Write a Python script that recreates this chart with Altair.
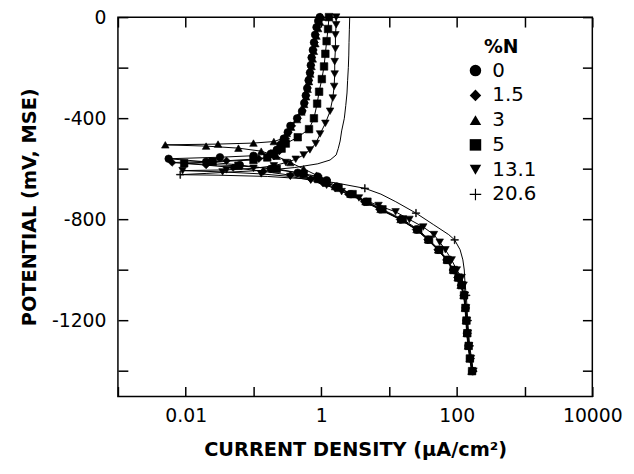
import altair as alt
import pandas as pd

SERIES = ["0", "1.5", "3", "5", "13.1", "20.6"]
PLUS = "M-1,-0.1H-0.1V-1H0.1V-0.1H1V0.1H0.1V1H-0.1V0.1H-1Z"
SHAPES = ["circle", "diamond", "triangle-up", "square", "triangle-down", PLUS]

# potential (mV, MSE) and current density (uA/cm2), cathodic end -> Ecorr -> anodic end
E_0 = [-1400,-1350,-1300,-1250,-1200,-1150,-1100,-1060,-1030,-1000,-960,-920,-880,-840,-800,-760,-730,-700,-670,-645,-630,-615,-600,-585,-572,-560,-554,-548,-540,-525,-505,-480,-455,-430,-400,-372,-340,-310,-281,-250,-220,-190,-160,-130,-100,-70,-40,-15,0]
I_0 = [170,158,148,141,138,135,129,117,105,89,72,54,38,26,15,7.6,4.6,2.75,1.7,1.2,0.89,0.45,0.18,0.063,0.02,0.0056,0.032,0.1,0.18,0.22,0.25,0.28,0.32,0.35,0.44,0.52,0.56,0.59,0.62,0.65,0.68,0.70,0.72,0.75,0.78,0.81,0.85,0.9,0.95]

E_1_5 = [-1400,-1350,-1300,-1250,-1200,-1150,-1100,-1060,-1030,-1000,-960,-920,-880,-840,-800,-760,-730,-700,-675,-655,-640,-625,-610,-595,-585,-575,-568,-560,-550,-530,-505,-480,-455,-430,-400,-370,-340,-310,-280,-250,-220,-190,-160,-130,-100,-70,-40,-15,0]
I_1_5 = [175,160,150,145,140,135,126,115,102,87,70,52,37,25,14.5,7.2,4.3,2.5,1.6,1.05,0.7,0.35,0.14,0.05,0.02,0.0063,0.04,0.12,0.2,0.24,0.27,0.3,0.33,0.37,0.45,0.53,0.57,0.6,0.63,0.66,0.69,0.71,0.73,0.77,0.8,0.83,0.87,0.92,0.97]

E_3 = [-1400,-1350,-1300,-1250,-1200,-1150,-1100,-1060,-1030,-1000,-960,-920,-880,-840,-800,-760,-730,-700,-670,-645,-625,-600,-575,-550,-530,-518,-510,-505,-502,-498,-492,-480,-460,-435,-405,-375,-345,-315,-285,-255,-225,-195,-165,-135,-105,-75,-45,-20,0]
I_3 = [165,155,146,140,136,132,126,114,103,88,71,53,37.5,25.5,14.8,7.5,4.5,2.7,1.6,1.05,0.85,0.55,0.35,0.22,0.13,0.06,0.02,0.005,0.03,0.1,0.2,0.27,0.31,0.36,0.44,0.51,0.56,0.6,0.63,0.66,0.69,0.72,0.75,0.78,0.82,0.85,0.9,0.96,1.02]

E_5 = [-1400,-1350,-1300,-1250,-1200,-1150,-1100,-1060,-1030,-1000,-960,-920,-880,-840,-800,-760,-730,-700,-675,-655,-640,-620,-600,-588,-578,-572,-565,-555,-540,-520,-500,-475,-443,-400,-342,-295,-245,-195,-145,-95,-47,0]
I_5 = [168,156,150,143,139,134,128,118,106,90,73,55,39,27,16,8,4.8,2.9,1.8,1.2,0.9,0.55,0.22,0.06,0.0095,0.025,0.1,0.16,0.2,0.26,0.3,0.45,0.66,0.78,0.87,0.93,1.02,1.1,1.15,1.2,1.26,1.3]

E_13_1 = [-1400,-1350,-1300,-1250,-1200,-1150,-1100,-1060,-1030,-1000,-960,-920,-890,-860,-830,-800,-770,-745,-715,-690,-665,-645,-630,-620,-612,-607,-604,-598,-588,-575,-562,-545,-525,-500,-462,-420,-372,-320,-274,-225,-176,-125,-70,-30,0]
I_13_1 = [176,162,152,146,141,137,132,126,118,100,84,68,56,46,32,20,12.5,7,3.6,2.0,1.2,0.7,0.35,0.13,0.035,0.009,0.04,0.1,0.2,0.3,0.42,0.55,0.68,0.83,0.96,1.15,1.35,1.48,1.55,1.58,1.58,1.62,1.62,1.66,1.66]

E_20_6 = [-1400,-1350,-1300,-1250,-1200,-1150,-1100,-1050,-1000,-960,-920,-881,-860,-820,-775,-730,-700,-677,-655,-640,-630,-625,-623,-618,-612,-605,-595,-580,-565,-545,-520,-490,-450,-400,-350,-300,-250,-200,-150,-100,-50,0]
I_20_6 = [174,165,155,150,145,142,138,132,129,123,112,93,76,45,25,12.6,7.6,4.4,1.6,0.63,0.16,0.03,0.0083,0.02,0.05,0.16,0.4,0.89,1.35,1.66,1.78,1.9,2.0,2.19,2.3,2.4,2.45,2.51,2.55,2.57,2.6,2.63]

# potentials of the 20.6 %N curve that carry a "+" marker
PLUS_MARKED = [-1400, -1300, -1200, -1100, -881, -775, -677, -623]

X_TICKS = [0.001, 0.01, 0.1, 1, 10, 100, 1000, 10000]
X_LABELS = {0.01: "0.01", 1: "1", 100: "100", 10000: "10000"}
Y_TICKS = [-1400, -1200, -1000, -800, -600, -400, -200, 0]
Y_LABELS = [0, -400, -800, -1200]

curves = [(SERIES[0], E_0, I_0), (SERIES[1], E_1_5, I_1_5), (SERIES[2], E_3, I_3),
          (SERIES[3], E_5, I_5), (SERIES[4], E_13_1, I_13_1), (SERIES[5], E_20_6, I_20_6)]
rows = []
for name, es, cs in curves:
    for k, (e, c) in enumerate(zip(es, cs)):
        m = 1 if (name != "20.6" or e in PLUS_MARKED) else 0
        rows.append({"n": name, "E": e, "i": c, "k": k, "m": m})
df = pd.DataFrame(rows)

FONT = "DejaVu Sans"
x_label_expr = " : ".join(f"datum.value == {v} ? '{t}'" for v, t in X_LABELS.items()) + " : ''"
y_label_expr = ("indexof([" + ",".join(str(v) for v in Y_LABELS) +
                "], datum.value) >= 0 ? (datum.value < 0 ? '-' : '') + abs(datum.value) : ''")

xscale = alt.Scale(type="log", domain=[0.001, 10000])
yscale = alt.Scale(domain=[-1500, 0], nice=False)

x_bottom = alt.Axis(values=X_TICKS, labelExpr=x_label_expr, tickSize=10, offset=-10,
                    domain=False, grid=False, labelFlush=False, labelOverlap=False,
                    labelFont=FONT, labelFontSize=19, labelColor="black", labelPadding=10,
                    tickColor="black", tickWidth=1.5,
                    title="CURRENT DENSITY (μA/cm²)", titleFont=FONT, titleFontSize=19.5,
                    titleFontWeight="bold", titleColor="black", titlePadding=16)
y_left = alt.Axis(values=Y_TICKS, labelExpr=y_label_expr, tickSize=10, offset=-10,
                  domain=False, grid=False, labelFlush=False, labelOverlap=False,
                  labelFont=FONT, labelFontSize=19, labelColor="black", labelPadding=12,
                  tickColor="black", tickWidth=1.5,
                  title="POTENTIAL (mV, MSE)", titleFont=FONT, titleFontSize=19.5,
                  titleFontWeight="bold", titleColor="black", titlePadding=12)
x_top = alt.Axis(orient="top", values=X_TICKS, tickSize=10, offset=-10, domain=False,
                 grid=False, labels=False, tickColor="black", tickWidth=1.5, title=None)
y_right = alt.Axis(orient="right", values=Y_TICKS, tickSize=10, offset=-10, domain=False,
                   grid=False, labels=False, tickColor="black", tickWidth=1.5, title=None)

base = alt.Chart(df)
lines = base.mark_line(color="black", strokeWidth=1).encode(
    x=alt.X("i:Q", scale=xscale, axis=x_bottom),
    y=alt.Y("E:Q", scale=yscale, axis=y_left),
    detail="n:N",
    order=alt.Order("k:Q"),
)
points = base.transform_filter("datum.m == 1").mark_point(
    filled=True, color="black", stroke="black", strokeWidth=0.6, size=58, opacity=1
).encode(
    x=alt.X("i:Q", scale=xscale, axis=x_top),
    y=alt.Y("E:Q", scale=yscale, axis=y_right),
    shape=alt.Shape("n:N", scale=alt.Scale(domain=SERIES, range=SHAPES),
                    legend=alt.Legend(title="%N", orient="none", legendX=351, legendY=21,
                                      padding=0, symbolSize=135, symbolFillColor="black",
                                      symbolStrokeColor="black", symbolStrokeWidth=0.6,
                                      labelFont=FONT, labelFontSize=20, labelColor="black",
                                      labelOffset=7, rowPadding=5,
                                      titleFont=FONT, titleFontSize=19, titleFontWeight="bold",
                                      titleColor="black", titleAnchor="middle", titlePadding=4)),
)

chart = alt.layer(lines, points).resolve_axis(x="independent", y="independent").properties(
    width=479, height=383,
    autosize=alt.AutoSizeParams(type="none"),
    padding={"left": 111, "top": 7, "right": 34, "bottom": 68},
).configure_view(stroke="black", strokeWidth=1.5)

chart.save("out.html", embed_options={"renderer": "svg", "actions": False})
